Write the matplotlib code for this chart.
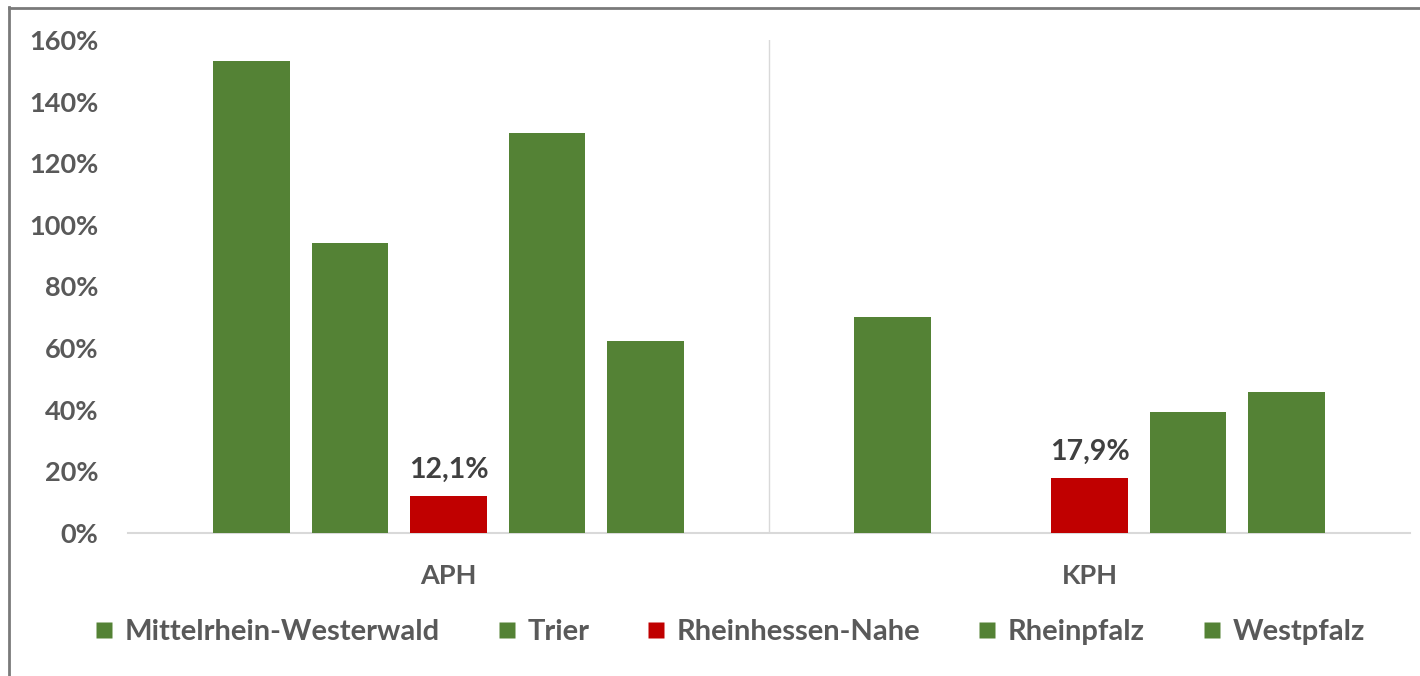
import numpy as np
import matplotlib
matplotlib.use("Agg")
import matplotlib.pyplot as plt
from matplotlib.lines import Line2D
from matplotlib.ticker import FuncFormatter

plt.rcParams['font.family'] = ['Lato', 'DejaVu Sans']
plt.rcParams['font.weight'] = 'bold'

# Data
categories = ["APH", "KPH"]
regions = ["Mittelrhein-Westerwald", "Trier", "Rheinhessen-Nahe", "Rheinpfalz", "Westpfalz"]
mittelrhein = [153.2, 70.0]
trier = [94.1, np.nan]
rheinhessen = [12.1, 17.9]
rheinpfalz = [129.8, 39.2]
westpfalz = [62.3, 45.9]
series = [mittelrhein, trier, rheinhessen, rheinpfalz, westpfalz]
highlight = "Rheinhessen-Nahe"
yticks = [0, 20, 40, 60, 80, 100, 120, 140, 160]

GREEN = "#548235"
RED = "#C00000"
TICK_GRAY = "#595959"
LABEL_GRAY = "#404040"

W, H = 1420, 676
fig = plt.figure(figsize=(W / 100, H / 100), dpi=100)
fig.patch.set_facecolor("white")
ax = fig.add_axes([128 / W, 1 - 533 / H, (1410 - 128) / W, (533 - 40) / H])

x = np.arange(len(categories))
pitch = 0.1537
width = 0.12
for i, (name, vals) in enumerate(zip(regions, series)):
    color = RED if name == highlight else GREEN
    pos = x + (i - 2) * pitch
    ax.bar(pos, vals, width, color=color, label=name, zorder=3)
    if name == highlight:
        for px, v in zip(pos, vals):
            ax.annotate(f"{v:.1f}%".replace(".", ","), (px, v),
                        xytext=(0, 9), textcoords="offset points",
                        ha="center", va="bottom", fontsize=20.5,
                        fontweight="bold", color=LABEL_GRAY)

ax.set_xlim(-0.5, 1.5)
ax.set_ylim(0, 160)
ax.set_yticks(yticks)
ax.yaxis.set_major_formatter(FuncFormatter(lambda v, _: f"{v:.0f}%"))
ax.set_xticks(x)
ax.set_xticklabels(categories)
ax.tick_params(axis="y", length=0, pad=21.5, labelsize=19.5, labelcolor=TICK_GRAY)
ax.tick_params(axis="x", length=0, pad=22, labelsize=19.5, labelcolor=TICK_GRAY)
for side in ["top", "right", "left"]:
    ax.spines[side].set_visible(False)
ax.spines["bottom"].set_color("#d9d9d9")
ax.spines["bottom"].set_linewidth(1.5)
ax.axvline(0.5, color="#d9d9d9", lw=1, zorder=1)

handles = [Line2D([], [], marker="s", linestyle="none", markersize=12.2,
                  markerfacecolor=(RED if r == highlight else GREEN),
                  markeredgecolor="none") for r in regions]
leg = fig.legend(handles, regions, loc="center", bbox_to_anchor=(730 / W, 1 - 632 / H),
                 ncol=5, frameon=False, fontsize=21, handletextpad=0.4,
                 columnspacing=2.0, handlelength=0.6, borderpad=0, borderaxespad=0)
for t in leg.get_texts():
    t.set_color(TICK_GRAY)
    t.set_fontweight("bold")

# Frame edges on the left and top
fig.add_artist(Line2D([8.5 / W, 8.5 / W], [0, 1 - 7 / H], color="#7a7a7a", lw=2))
fig.add_artist(Line2D([8.5 / W, 1], [1 - 7.5 / H, 1 - 7.5 / H], color="#7a7a7a", lw=2))

fig.savefig("out.png", dpi=100, facecolor="white")
